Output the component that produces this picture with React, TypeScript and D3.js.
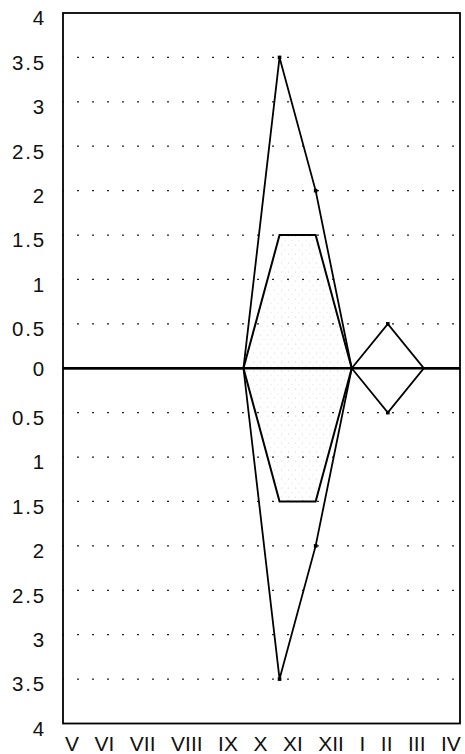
import React, { useRef, useEffect } from 'react';
import * as d3 from 'd3';

// months of the hydrological year, May to April
const months = ['V', 'VI', 'VII', 'VIII', 'IX', 'X', 'XI', 'XII', 'I', 'II', 'III', 'IV'];
// outer envelope (mirrored below zero)
const outerValues = [0, 0, 0, 0, 0, 0, 3.5, 2, 0, 0.5, 0, 0];
// inner band (mirrored below zero)
const innerValues = [null, null, null, null, null, 0, 1.5, 1.5, 0, null, null, null];
const yTicks = [4, 3.5, 3, 2.5, 2, 1.5, 1, 0.5, 0, -0.5, -1, -1.5, -2, -2.5, -3, -3.5, -4];

const App = () => {
  const svgRef = useRef<SVGSVGElement>(null);

  useEffect(() => {
    const width = 465;
    const height = 754;
    const margin = { top: 13, right: 5, bottom: 30.5, left: 63 };

    const svg = d3.select(svgRef.current);
    svg.selectAll('*').remove();

    const x = d3.scalePoint<string>()
      .domain(months)
      .range([margin.left, width - margin.right]);

    const y = d3.scaleLinear()
      .domain([-4, 4])
      .range([height - margin.bottom, margin.top]);

    // faint stipple inside the inner band
    const defs = svg.append('defs');
    const pat = defs.append('pattern')
      .attr('id', 'stipple')
      .attr('width', 7)
      .attr('height', 9)
      .attr('patternUnits', 'userSpaceOnUse');
    pat.append('circle').attr('cx', 1.5).attr('cy', 2).attr('r', 0.6).attr('fill', '#cfcfcf');
    pat.append('circle').attr('cx', 5).attr('cy', 6.5).attr('r', 0.5).attr('fill', '#dadada');

    // dotted grid
    svg.append('g')
      .selectAll('line')
      .data(yTicks.filter(d => d !== 0 && Math.abs(d) < 4))
      .enter()
      .append('line')
      .attr('x1', margin.left)
      .attr('x2', width - margin.right)
      .attr('y1', d => y(d))
      .attr('y2', d => y(d))
      .attr('stroke', '#222')
      .attr('stroke-width', 1.2)
      .attr('stroke-dasharray', '2 13')
      .attr('stroke-dashoffset', 1);

    const area = d3.area<number | null>()
      .defined(d => d != null)
      .x((d, i) => x(months[i]) as number)
      .y0(d => y(-(d as number)))
      .y1(d => y(d as number));

    svg.append('path')
      .attr('d', area(innerValues))
      .attr('fill', 'url(#stipple)');

    const line = (sign: number) => d3.line<number | null>()
      .defined(d => d != null)
      .x((d, i) => x(months[i]) as number)
      .y(d => y(sign * (d as number)));

    // zero line
    svg.append('line')
      .attr('x1', margin.left)
      .attr('x2', width - margin.right)
      .attr('y1', y(0))
      .attr('y2', y(0))
      .attr('stroke', '#000')
      .attr('stroke-width', 2.6);

    [1, -1].forEach(sign => {
      svg.append('path')
        .attr('d', line(sign)(outerValues))
        .attr('fill', 'none')
        .attr('stroke', '#000')
        .attr('stroke-width', 1.8)
        .attr('stroke-linejoin', 'miter');

      svg.append('path')
        .attr('d', line(sign)(innerValues))
        .attr('fill', 'none')
        .attr('stroke', '#000')
        .attr('stroke-width', 2);

      svg.append('g')
        .selectAll('rect')
        .data(outerValues.map((v, i) => ({ v, m: months[i] })).filter(d => d.v !== 0))
        .enter()
        .append('rect')
        .attr('x', d => (x(d.m) as number) - 1.8)
        .attr('y', d => y(sign * d.v) - 1.8)
        .attr('width', 3.6)
        .attr('height', 3.6)
        .attr('fill', '#000');
    });

    // frame
    svg.append('rect')
      .attr('x', margin.left)
      .attr('y', margin.top)
      .attr('width', width - margin.left - margin.right)
      .attr('height', height - margin.top - margin.bottom)
      .attr('fill', 'none')
      .attr('stroke', '#000')
      .attr('stroke-width', 1.8);

    // y labels, absolute values on both sides of zero
    const yAxis = d3.axisLeft(y)
      .tickValues(yTicks)
      .tickSize(0)
      .tickPadding(17)
      .tickFormat(d => String(Math.abs(+d)));

    const gy = svg.append('g')
      .attr('transform', `translate(${margin.left},0)`)
      .call(yAxis);
    gy.select('.domain').remove();
    gy.selectAll('text')
      .attr('dy', d => (d === 0 ? '0.36em' : '0.58em'))
      .attr('fill', '#111')
      .style('font-family', '"Liberation Sans", Arial, sans-serif')
      .style('font-size', '20.5px')
      .style('letter-spacing', '1.8px');

    // month labels flow along the bottom
    const xt = svg.append('text')
      .attr('x', 65)
      .attr('y', 751)
      .attr('fill', '#111')
      .style('font-family', '"Liberation Sans", Arial, sans-serif')
      .style('font-size', '21px');
    xt.selectAll('tspan')
      .data(months)
      .enter()
      .append('tspan')
      .attr('dx', (d, i) => (i === 0 ? 0 : 15.5))
      .text(d => d);
  }, []);

  return (
    <svg
      ref={svgRef}
      width={465}
      height={754}
      style={{ position: 'absolute', left: 0, top: 0, background: '#fff' }}
    ></svg>
  );
};

export default App;
